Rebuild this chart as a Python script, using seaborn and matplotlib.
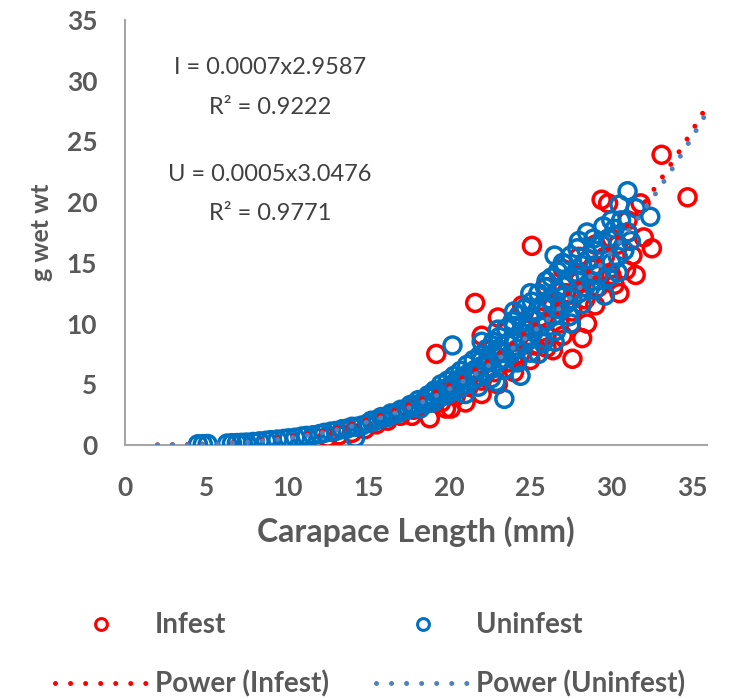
import numpy as np
import pandas as pd
import matplotlib
matplotlib.use("Agg")
import matplotlib.pyplot as plt
from matplotlib.lines import Line2D
import seaborn as sns

# ---------------- data ----------------
uninf_x = [
    4.5, 4.8, 5.1, 6.3, 6.6, 6.9, 7.2, 7.5, 7.9, 8.3,
    8.7, 9.0, 9.4, 9.8, 10.1, 10.5, 10.9, 11.2, 11.6, 12.0,
    12.3, 12.7, 13.0, 13.4, 13.7, 14.0, 14.2, 14.3, 14.6, 15.0,
    15.3, 15.6, 15.9, 16.2, 16.5, 16.8, 17.1, 17.4, 17.7, 18.0,
    18.2, 18.4, 18.6, 18.8, 19.0, 19.2, 19.4, 19.6, 19.8, 20.0,
    20.2, 20.2, 20.4, 20.6, 20.8, 21.0, 21.2, 21.4, 21.6, 21.8,
    22.0, 22.0, 22.2, 22.4, 22.6, 22.8, 22.9, 23.0, 23.0, 23.2,
    23.4, 23.4, 23.6, 23.8, 24.0, 24.0, 24.2, 24.4, 24.4, 24.6,
    24.8, 25.0, 25.0, 25.0, 25.2, 25.4, 25.5, 25.6, 25.8, 26.0,
    26.0, 26.2, 26.4, 26.5, 26.5, 26.6, 26.8, 27.0, 27.0, 27.2,
    27.4, 27.5, 27.6, 27.8, 28.0, 28.2, 28.4, 28.5, 28.6, 28.8,
    29.0, 29.2, 29.4, 29.6, 29.8, 30.0, 30.2, 30.4, 30.6, 31.0,
    31.2, 31.5, 32.4,
    15.2, 15.8, 16.4, 17.0, 17.6, 18.1, 18.7, 19.1, 19.5, 19.9,
    20.3, 20.7, 21.1, 21.5, 21.9, 22.3, 22.7, 23.1, 23.5, 23.9,
    24.3, 24.7, 25.1, 25.5, 25.9, 26.3, 26.7, 27.1, 27.5, 27.9,
    21.0, 21.8, 22.6, 23.4, 24.2, 25.0, 25.8, 26.6, 27.4, 28.2,
    29.0, 29.8, 30.4, 30.8, 31.0, 30.5, 30.0, 29.5, 28.9, 28.0,
    24.0, 25.0, 26.0, 27.0, 28.0, 29.0, 23.0, 22.0, 20.5, 19.5]
uninf_y = [
    0.06, 0.07, 0.08, 0.12, 0.15, 0.16, 0.18, 0.20, 0.25, 0.30,
    0.35, 0.40, 0.45, 0.50, 0.55, 0.60, 0.70, 0.75, 0.80, 0.90,
    1.0, 1.1, 1.15, 1.3, 1.35, 1.5, 0.6, 1.5, 1.6, 1.8,
    1.9, 2.1, 2.2, 2.3, 2.5, 2.6, 2.8, 2.9, 3.1, 3.3,
    3.0, 3.6, 3.4, 3.9, 3.5, 4.2, 3.9, 4.6, 4.1, 4.8,
    8.2, 4.4, 5.2, 4.6, 5.6, 5.0, 5.9, 5.3, 6.2, 5.6,
    6.5, 8.5, 5.9, 7.0, 6.3, 7.4, 5.2, 6.8, 9.5, 7.8,
    3.8, 7.1, 8.3, 7.5, 8.8, 11.0, 7.9, 5.7, 9.3, 8.4,
    9.8, 8.8, 10.4, 12.5, 9.3, 11.0, 7.5, 9.8, 11.5, 10.2,
    13.5, 12.0, 10.6, 15.6, 8.5, 12.6, 11.2, 13.1, 15.0, 11.6,
    13.7, 10.0, 12.0, 14.2, 12.5, 14.8, 13.0, 17.5, 15.3, 13.5,
    16.0, 14.0, 16.5, 12.3, 17.0, 15.0, 17.8, 15.5, 18.5, 20.9,
    16.8, 19.5, 18.8,
    2.0, 2.3, 2.6, 2.9, 3.3, 3.7, 4.1, 4.5, 5.0, 5.3,
    5.7, 6.1, 6.6, 7.0, 7.4, 7.9, 8.5, 8.9, 9.6, 10.2,
    10.7, 11.3, 11.8, 12.5, 13.0, 13.8, 14.3, 14.9, 15.6, 16.2,
    4.2, 4.8, 5.5, 6.2, 6.8, 7.6, 8.4, 9.4, 10.6, 11.6,
    12.8, 13.8, 14.2, 16.0, 17.5, 19.8, 18.5, 18.0, 17.0, 16.8,
    9.8, 9.6, 11.2, 12.2, 13.8, 14.8, 7.9, 7.0, 5.0, 4.2]

inf_x = [
    12.5, 13.2, 14.0, 14.8, 15.5, 16.2, 17.0, 17.7, 17.8, 18.5,
    18.8, 19.2, 19.5, 19.8, 20.0, 20.1, 20.4, 20.8, 21.2, 21.6,
    21.6, 22.0, 22.0, 22.4, 22.8, 23.0, 23.2, 23.6, 24.0, 24.4,
    24.5, 24.8, 25.1, 25.2, 25.6, 26.0, 26.0, 26.4, 26.4, 26.8,
    27.0, 27.2, 27.6, 27.6, 28.0, 28.0, 28.2, 28.4, 28.8, 29.2,
    29.4, 29.6, 29.8, 30.0, 30.2, 30.4, 30.9, 31.0, 31.3, 31.8,
    32.0, 32.5, 33.1, 34.7,
    30.5, 31.5, 29.0, 28.5, 27.0, 26.0, 25.0, 24.0, 23.0, 22.0,
    21.0, 30.0, 31.0, 29.0, 28.0]
inf_y = [
    0.6, 0.8, 1.0, 1.3, 1.7, 2.0, 2.4, 2.4, 2.9, 3.4,
    2.2, 7.5, 3.5, 3.0, 4.5, 3.0, 4.0, 5.5, 4.8, 11.7,
    6.0, 5.3, 9.0, 6.8, 6.0, 10.5, 7.6, 6.8, 8.5, 7.5,
    11.5, 9.5, 16.4, 8.2, 10.5, 9.0, 13.0, 7.8, 11.5, 10.0,
    14.5, 12.5, 7.1, 11.0, 13.5, 15.5, 8.8, 12.0, 14.5, 13.0,
    20.2, 15.5, 19.9, 14.0, 13.2, 16.5, 14.4, 17.5, 15.6, 19.9,
    17.1, 16.2, 23.9, 20.4,
    12.5, 14.0, 11.5, 10.0, 9.0, 8.0, 7.0, 6.0, 5.0, 4.2,
    3.5, 17.0, 18.5, 16.5, 14.0]

# power trend-line coefficients shown on the chart (y = a * x^b)
inf_a, inf_b = 0.0007, 2.9587
uninf_a, uninf_b = 0.0005, 3.0476
trend_range = [2.0, 35.8]

eq_labels = ["I = 0.0007x2.9587", "R² = 0.9222", "U = 0.0005x3.0476", "R² = 0.9771"]
x_ticks = [0, 5, 10, 15, 20, 25, 30, 35]
y_ticks = [0, 5, 10, 15, 20, 25, 30, 35]

# ---------------- styling ----------------
RED = "#FF0000"
BLUE = "#0070C0"
BLUE_TREND = "#4F81BD"
GRAY = "#595959"
DARK = "#404040"

sns.set_theme(style="white")
plt.rcParams["font.family"] = ["Lato", "DejaVu Sans"]

fig = plt.figure(figsize=(7.30, 6.99), dpi=100)
ax = fig.add_axes([125 / 730, 1 - 445 / 699, (707 - 125) / 730, (445 - 20) / 699])

df_inf = pd.DataFrame({"x": inf_x, "y": inf_y})
df_un = pd.DataFrame({"x": uninf_x, "y": uninf_y})

sns.scatterplot(data=df_inf, x="x", y="y", ax=ax, marker="o", s=150,
                facecolor="none", edgecolor=RED, linewidth=2.5, zorder=3)
sns.scatterplot(data=df_un, x="x", y="y", ax=ax, marker="o", s=150,
                facecolor="none", edgecolor=BLUE, linewidth=2.5, zorder=4)

tx = np.linspace(trend_range[0], trend_range[1], 300)
df_tr = pd.DataFrame({"x": tx,
                      "inf": inf_a * tx ** inf_b,
                      "un": uninf_a * tx ** uninf_b})
dot_style = dict(linestyle=(0, (0.01, 3.0)), linewidth=3.6, dash_capstyle="round")
sns.lineplot(data=df_tr, x="x", y="inf", ax=ax, color=RED, zorder=5, **dot_style)
sns.lineplot(data=df_tr, x="x", y="un", ax=ax, color=BLUE_TREND, zorder=6, **dot_style)

ax.set_xlim(0, 35.9)
ax.set_ylim(0, 35)
ax.set_xticks(x_ticks)
ax.set_yticks(y_ticks)
ax.tick_params(axis="x", length=0, labelsize=19, labelcolor=GRAY, pad=22)
ax.tick_params(axis="y", length=0, labelsize=19, labelcolor=GRAY, pad=20)
for lab in ax.get_xticklabels() + ax.get_yticklabels():
    lab.set_fontweight("bold")
for side in ["top", "right"]:
    ax.spines[side].set_visible(False)
for side in ["left", "bottom"]:
    ax.spines[side].set_color("#A6A6A6")
    ax.spines[side].set_linewidth(1.5)
ax.grid(False)

ax.set_xlabel("Carapace Length (mm)", fontsize=23, color=GRAY, fontweight="bold", labelpad=12)
ax.set_ylabel("g wet wt", fontsize=18, color=GRAY, fontweight="bold", labelpad=10)

eq_pos = [(8.95, 31.05), (8.95, 27.76), (8.95, 22.3), (8.95, 19.1)]
for (ex, ey), t in zip(eq_pos, eq_labels):
    ax.text(ex, ey, t, ha="center", va="center", fontsize=17, color=DARK)

handles = [
    Line2D([], [], marker="o", linestyle="none", markerfacecolor="none",
           markeredgecolor=RED, markeredgewidth=2.2, markersize=8.5),
    Line2D([], [], color=RED, **dot_style),
    Line2D([], [], marker="o", linestyle="none", markerfacecolor="none",
           markeredgecolor=BLUE, markeredgewidth=2.2, markersize=8.5),
    Line2D([], [], color=BLUE_TREND, **dot_style),
]
labels = ["Infest", "Power (Infest)", "Uninfest", "Power (Uninfest)"]
leg = fig.legend(handles, labels, loc="center", bbox_to_anchor=(0.507, 0.063),
                 ncol=2, frameon=False, fontsize=20, handlelength=3.35,
                 handletextpad=0.25, columnspacing=1.7, labelspacing=1.15,
                 borderpad=0.2)
for t in leg.get_texts():
    t.set_color(GRAY)
    t.set_fontweight("bold")

fig.savefig("out.png", dpi=100)
